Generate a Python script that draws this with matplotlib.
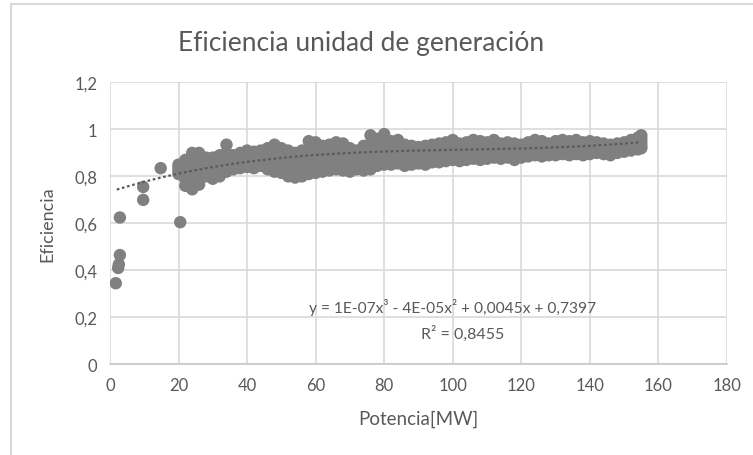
import matplotlib.pyplot as plt
from matplotlib.lines import Line2D
import numpy as np

# puntos aislados (arranque y zona baja)
pot_sueltos = [1.7, 2.4, 2.6, 2.9, 2.9, 9.7, 9.7, 14.8, 20.5, 22, 24, 24, 26, 26, 22, 21]
ef_sueltos = [0.345, 0.41, 0.425, 0.465, 0.625, 0.70, 0.755, 0.835, 0.605,
              0.79, 0.78, 0.86, 0.80, 0.87, 0.85, 0.83]

# nube principal, leida por franjas (de borde superior a borde inferior)
pot_nube = [20, 22, 24, 26, 28, 30, 32, 34, 36, 38, 40, 42, 44, 46, 48, 50, 52, 54,
            56, 58, 60, 62, 64, 66, 68, 70, 72, 74, 76, 78, 80, 82, 84, 86, 88, 90,
            92, 94, 96, 98, 100, 102, 104, 106, 108, 110, 112, 114, 116, 118, 120,
            122, 124, 126, 128, 130, 132, 134, 136, 138, 140, 142, 144, 146, 148,
            150, 152, 154, 155]
ef_alto = [0.85, 0.87, 0.90, 0.90, 0.88, 0.88, 0.89, 0.935, 0.89, 0.90, 0.91, 0.905,
           0.91, 0.92, 0.935, 0.92, 0.91, 0.90, 0.91, 0.95, 0.945, 0.93, 0.935, 0.945,
           0.94, 0.92, 0.91, 0.93, 0.975, 0.96, 0.98, 0.95, 0.955, 0.935, 0.93, 0.925,
           0.93, 0.935, 0.94, 0.945, 0.955, 0.94, 0.945, 0.955, 0.95, 0.945, 0.955,
           0.94, 0.945, 0.94, 0.935, 0.945, 0.955, 0.95, 0.94, 0.95, 0.955, 0.95,
           0.955, 0.945, 0.95, 0.945, 0.94, 0.935, 0.94, 0.945, 0.955, 0.965, 0.975]
ef_medio_alto = [0.84, 0.845, 0.86, 0.87, 0.86, 0.86, 0.87, 0.90, 0.875, 0.885, 0.89,
                 0.89, 0.89, 0.90, 0.905, 0.89, 0.885, 0.875, 0.885, 0.915, 0.91, 0.905,
                 0.905, 0.915, 0.91, 0.895, 0.89, 0.90, 0.94, 0.93, 0.945, 0.925, 0.93,
                 0.91, 0.91, 0.91, 0.91, 0.915, 0.92, 0.925, 0.93, 0.92, 0.925, 0.935,
                 0.93, 0.925, 0.935, 0.925, 0.93, 0.92, 0.92, 0.93, 0.935, 0.935, 0.93,
                 0.935, 0.94, 0.935, 0.94, 0.93, 0.935, 0.93, 0.93, 0.925, 0.93, 0.935,
                 0.94, 0.95, 0.96]
ef_medio = [0.83, 0.82, 0.82, 0.84, 0.84, 0.835, 0.845, 0.87, 0.86, 0.865, 0.875,
            0.87, 0.875, 0.875, 0.875, 0.865, 0.855, 0.85, 0.855, 0.88, 0.88, 0.875,
            0.88, 0.885, 0.885, 0.87, 0.87, 0.875, 0.90, 0.90, 0.91, 0.90, 0.905,
            0.89, 0.89, 0.89, 0.89, 0.895, 0.90, 0.905, 0.91, 0.905, 0.905, 0.915,
            0.91, 0.91, 0.915, 0.91, 0.91, 0.905, 0.91, 0.915, 0.92, 0.92, 0.915,
            0.92, 0.925, 0.92, 0.925, 0.92, 0.92, 0.92, 0.92, 0.915, 0.92, 0.925,
            0.93, 0.94, 0.945]
ef_medio_bajo = [0.82, 0.79, 0.78, 0.80, 0.82, 0.81, 0.82, 0.845, 0.845, 0.85, 0.855,
                 0.85, 0.86, 0.85, 0.845, 0.84, 0.83, 0.82, 0.825, 0.845, 0.845, 0.85,
                 0.85, 0.855, 0.855, 0.845, 0.85, 0.85, 0.865, 0.87, 0.88, 0.875, 0.88,
                 0.87, 0.87, 0.87, 0.87, 0.875, 0.88, 0.885, 0.89, 0.885, 0.89, 0.895,
                 0.89, 0.89, 0.895, 0.89, 0.895, 0.89, 0.895, 0.90, 0.905, 0.90, 0.90,
                 0.905, 0.91, 0.905, 0.91, 0.905, 0.91, 0.91, 0.905, 0.90, 0.91, 0.915,
                 0.92, 0.93, 0.93]
ef_bajo = [0.81, 0.76, 0.745, 0.765, 0.80, 0.79, 0.80, 0.82, 0.83, 0.835, 0.84,
           0.835, 0.845, 0.83, 0.82, 0.815, 0.80, 0.795, 0.80, 0.81, 0.815, 0.82,
           0.825, 0.83, 0.825, 0.82, 0.83, 0.825, 0.83, 0.845, 0.85, 0.85, 0.855,
           0.845, 0.85, 0.855, 0.85, 0.86, 0.86, 0.865, 0.87, 0.865, 0.87, 0.875,
           0.87, 0.875, 0.88, 0.875, 0.88, 0.87, 0.88, 0.885, 0.89, 0.885, 0.89,
           0.89, 0.895, 0.89, 0.895, 0.89, 0.895, 0.90, 0.895, 0.89, 0.90, 0.905,
           0.91, 0.915, 0.92]

# linea de tendencia
pot_tend = [2, 10, 20, 30, 40, 60, 80, 100, 120, 140, 153]
ef_tend = [0.745, 0.777, 0.81, 0.838, 0.865, 0.89, 0.906, 0.915, 0.918, 0.928, 0.945]

x_ticks = [0, 20, 40, 60, 80, 100, 120, 140, 160, 180]
y_ticks = [0, 0.2, 0.4, 0.6, 0.8, 1.0, 1.2]
y_labels = ['0', '0,2', '0,4', '0,6', '0,8', '1', '1,2']

plt.rcParams['font.family'] = ['Lato', 'DejaVu Sans']
gris_txt = '#595959'

fig = plt.figure(figsize=(7.53, 4.56), dpi=100, facecolor='white')
ax = fig.add_axes([0.146, 0.199, 0.8195, 0.618])

filas = ef_alto + ef_medio_alto + ef_medio + ef_medio_bajo + ef_bajo
todos_x = pot_sueltos + pot_nube * 5
todos_y = ef_sueltos + filas
ax.scatter(todos_x, todos_y, s=80, color='#808080', edgecolors='none', zorder=3)

# polinomica de grado 3 ajustada a la tendencia
coef = np.polyfit(pot_tend, ef_tend, 3)
xt = np.linspace(2, 155, 200)
ax.plot(xt, np.polyval(coef, xt), linestyle=(0, (1.2, 1.2)), color='#5a5a5a',
        linewidth=1.6, zorder=4)

ax.set_xlim(0, 180)
ax.set_ylim(0, 1.2)
ax.set_xticks(x_ticks)
ax.set_yticks(y_ticks)
ax.set_yticklabels(y_labels)
ax.grid(True, color='#d9d9d9', linewidth=1.2, zorder=0)
ax.set_axisbelow(True)
for s in ['top', 'right', 'left']:
    ax.spines[s].set_visible(False)
ax.spines['bottom'].set_color('#c8c8c8')
ax.spines['bottom'].set_linewidth(1.2)
ax.tick_params(length=0, labelsize=12, labelcolor=gris_txt, pad=9)

ax.set_xlabel('Potencia[MW]', fontsize=13.5, color=gris_txt, labelpad=12)
ax.set_ylabel('Eficiencia', fontsize=13, color=gris_txt, labelpad=14)
fig.text(0.479, 0.905, 'Eficiencia unidad de generación', fontsize=19,
         color=gris_txt, ha='center', va='center')

ax.text(100, 0.244, 'y = 1E-07x³ - 4E-05x² + 0,0045x + 0,7397', fontsize=11.2,
        color=gris_txt, ha='center', va='center', zorder=5)
ax.text(103, 0.132, 'R² = 0,8455', fontsize=11.5, color=gris_txt, ha='center',
        va='center', zorder=5)

# borde del area del grafico
fig.add_artist(Line2D([0.0146, 1.0], [0.989, 0.989], color='#d9d9d9', linewidth=1.5))
fig.add_artist(Line2D([0.0146, 0.0146], [0.0, 0.989], color='#d9d9d9', linewidth=1.5))

fig.savefig('out.png', dpi=100, facecolor='white')
